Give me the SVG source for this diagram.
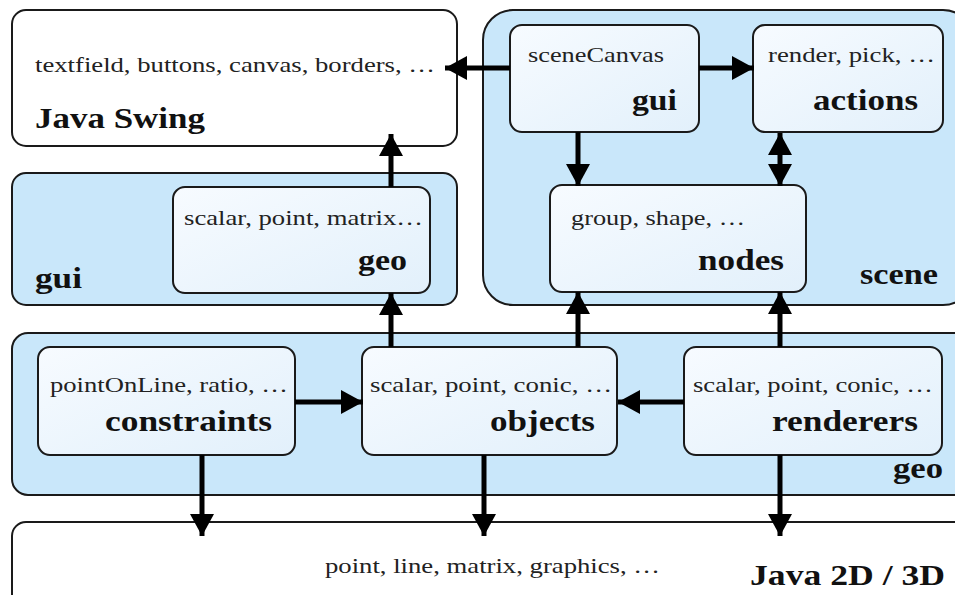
<svg xmlns="http://www.w3.org/2000/svg" width="955" height="595" viewBox="0 0 955 595">
  <style>
    .pkg { fill: #c9e7fa; stroke: #1a1a1a; stroke-width: 2; }
    .box { fill: url(#boxFill); stroke: #1a1a1a; stroke-width: 2; }
    .ext { fill: #ffffff; stroke: #1a1a1a; stroke-width: 2; }
    text { font-family: 'Liberation Serif', Tinos, 'Times New Roman', serif; }
    .sub { font-size: 21px; fill: #222; }
    .name { font-size: 30px; font-weight: bold; fill: #111; }
    .dep { stroke: #000; stroke-width: 5; fill: none; marker-end: url(#head); }
  </style>
  <defs>
    <linearGradient id="boxFill" x1="0" y1="0" x2="1" y2="1">
      <stop offset="0" stop-color="#f7fbff"/>
      <stop offset="1" stop-color="#e2f0fb"/>
    </linearGradient>
    <marker id="head" markerUnits="userSpaceOnUse" viewBox="0 0 22 24" refX="22" refY="12" markerWidth="22" markerHeight="24" orient="auto-start-reverse">
      <path d="M0,0 L22,12 L0,24 Z" fill="#000"/>
    </marker>
  </defs>

  <!-- Java Swing -->
  <g id="java-swing">
    <rect class="ext" x="12" y="10" width="445" height="136" rx="14"/>
    <text class="sub" x="35" y="72" textLength="400" lengthAdjust="spacingAndGlyphs">textfield, buttons, canvas, borders, …</text>
    <text class="name" x="35" y="128" textLength="170" lengthAdjust="spacingAndGlyphs">Java Swing</text>
  </g>

  <!-- scene package -->
  <g id="scene">
    <rect class="pkg" x="483" y="10" width="490" height="295" rx="30"/>
    <text class="name" x="860" y="284" textLength="78" lengthAdjust="spacingAndGlyphs">scene</text>
  </g>
  <g id="scene-gui">
    <rect class="box" x="510" y="25" width="189" height="107" rx="12"/>
    <text class="sub" x="528" y="62" textLength="136" lengthAdjust="spacingAndGlyphs">sceneCanvas</text>
    <text class="name" x="632" y="110" textLength="45" lengthAdjust="spacingAndGlyphs">gui</text>
  </g>
  <g id="scene-actions">
    <rect class="box" x="753" y="25" width="190" height="107" rx="12"/>
    <text class="sub" x="768" y="62" textLength="167" lengthAdjust="spacingAndGlyphs">render, pick, …</text>
    <text class="name" x="813" y="110" textLength="105" lengthAdjust="spacingAndGlyphs">actions</text>
  </g>
  <g id="scene-nodes">
    <rect class="box" x="550" y="185" width="256" height="107" rx="12"/>
    <text class="sub" x="571" y="225" textLength="174" lengthAdjust="spacingAndGlyphs">group, shape, …</text>
    <text class="name" x="698" y="270" textLength="86" lengthAdjust="spacingAndGlyphs">nodes</text>
  </g>

  <!-- gui package -->
  <g id="gui">
    <rect class="pkg" x="12" y="173" width="445" height="132" rx="14"/>
    <text class="name" x="35" y="288" textLength="47" lengthAdjust="spacingAndGlyphs">gui</text>
  </g>
  <g id="gui-geo">
    <rect class="box" x="173" y="187" width="257" height="106" rx="12"/>
    <text class="sub" x="184" y="225" textLength="239" lengthAdjust="spacingAndGlyphs">scalar, point, matrix…</text>
    <text class="name" x="358" y="270" textLength="49" lengthAdjust="spacingAndGlyphs">geo</text>
  </g>

  <!-- geo package -->
  <g id="geo">
    <rect class="pkg" x="12" y="333" width="960" height="162" rx="16"/>
    <text class="name" x="893" y="478" textLength="50" lengthAdjust="spacingAndGlyphs">geo</text>
  </g>
  <g id="geo-constraints">
    <rect class="box" x="38" y="347" width="257" height="108" rx="12"/>
    <text class="sub" x="50" y="392" textLength="238" lengthAdjust="spacingAndGlyphs">pointOnLine, ratio, …</text>
    <text class="name" x="105" y="431" textLength="167" lengthAdjust="spacingAndGlyphs">constraints</text>
  </g>
  <g id="geo-objects">
    <rect class="box" x="362" y="347" width="255" height="108" rx="12"/>
    <text class="sub" x="370" y="392" textLength="242" lengthAdjust="spacingAndGlyphs">scalar, point, conic, …</text>
    <text class="name" x="490" y="431" textLength="105" lengthAdjust="spacingAndGlyphs">objects</text>
  </g>
  <g id="geo-renderers">
    <rect class="box" x="684" y="347" width="258" height="108" rx="12"/>
    <text class="sub" x="693" y="392" textLength="240" lengthAdjust="spacingAndGlyphs">scalar, point, conic, …</text>
    <text class="name" x="772" y="431" textLength="146" lengthAdjust="spacingAndGlyphs">renderers</text>
  </g>

  <!-- Java 2D / 3D -->
  <g id="java-2d-3d">
    <rect class="ext" x="12" y="522" width="960" height="100" rx="14"/>
    <text class="sub" x="325" y="573" textLength="335" lengthAdjust="spacingAndGlyphs">point, line, matrix, graphics, …</text>
    <text class="name" x="750" y="585" textLength="195" lengthAdjust="spacingAndGlyphs">Java 2D / 3D</text>
  </g>

  <!-- dependencies -->
  <g id="connectors">
    <line class="dep" x1="510" y1="68" x2="445" y2="68"/>
    <line class="dep" x1="699" y1="68" x2="754" y2="68"/>
    <line class="dep" x1="578" y1="132" x2="578" y2="186"/>
    <line class="dep" x1="780" y1="186" x2="780" y2="133" style="marker-start: url(#head);"/>
    <line class="dep" x1="391" y1="187" x2="391" y2="134"/>
    <line class="dep" x1="391" y1="347" x2="391" y2="293"/>
    <line class="dep" x1="578" y1="347" x2="578" y2="292"/>
    <line class="dep" x1="780" y1="347" x2="780" y2="292"/>
    <line class="dep" x1="295" y1="402" x2="363" y2="402"/>
    <line class="dep" x1="684" y1="402" x2="618" y2="402"/>
    <line class="dep" x1="202" y1="455" x2="202" y2="536"/>
    <line class="dep" x1="484" y1="455" x2="484" y2="536"/>
    <line class="dep" x1="780" y1="455" x2="780" y2="536"/>
  </g>
</svg>
